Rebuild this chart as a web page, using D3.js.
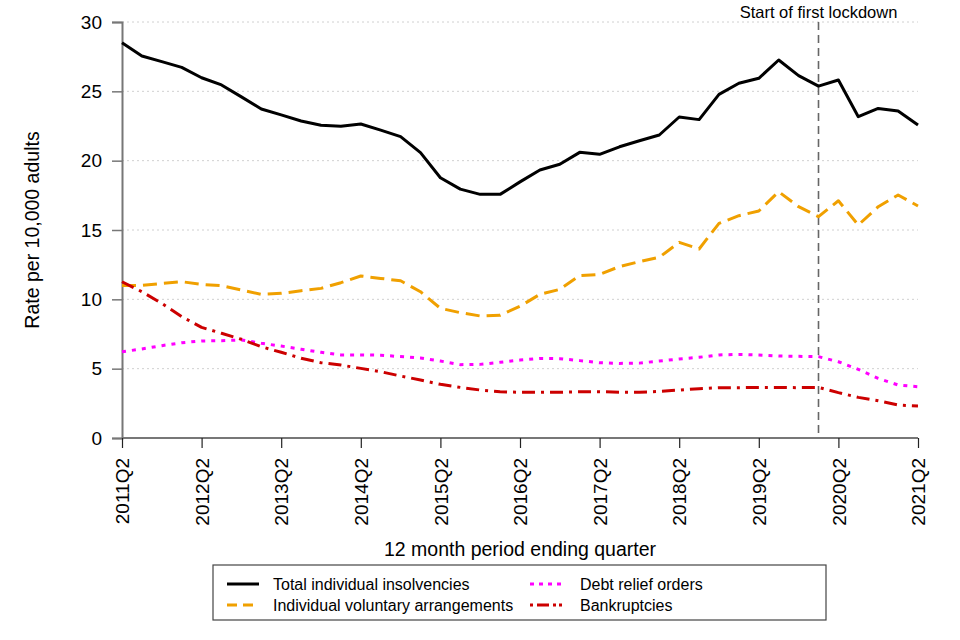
<!DOCTYPE html>
<html>
<head>
<meta charset="utf-8">
<script src="https://cdn.jsdelivr.net/npm/d3@7"></script>
<style>
  body { margin: 0; background: #fff; }
  text { font-family: Arial, "Liberation Sans", sans-serif; }
</style>
</head>
<body>
<svg id="chart" width="960" height="640"></svg>
<script>
// Quarters: 2011Q2 .. 2021Q2
const quarters = [];
for (let y = 2011; y <= 2021; y++) {
  for (let q = 1; q <= 4; q++) {
    if ((y === 2011 && q < 2) || (y === 2021 && q > 2)) continue;
    quarters.push(y + "Q" + q);
  }
}
const tickLabels = ["2011Q2","2012Q2","2013Q2","2014Q2","2015Q2","2016Q2","2017Q2","2018Q2","2019Q2","2020Q2","2021Q2"];
const yTicks = [0, 5, 10, 15, 20, 25, 30];
const lockdownQuarter = "2020Q1";
const lockdownLabel = "Start of first lockdown";

const totalValues = [28.5,27.55,27.14,26.73,25.98,25.46,24.6,23.73,23.3,22.86,22.55,22.48,22.64,22.2,21.73,20.58,18.77,17.95,17.57,17.57,
  18.47,19.33,19.74,20.6,20.46,21.0,21.44,21.85,23.15,22.96,24.78,25.58,25.94,27.26,26.13,25.38,25.82,23.17,23.77,23.58,22.57];
const ivaValues = [11.0,11.0,11.15,11.27,11.08,10.98,10.67,10.36,10.43,10.62,10.79,11.2,11.68,11.51,11.34,10.55,9.35,9.04,8.8,8.85,
  9.5,10.36,10.72,11.71,11.8,12.36,12.72,13.03,14.11,13.63,15.48,16.03,16.37,17.76,16.68,15.96,17.11,15.36,16.68,17.52,16.73];
const droValues = [6.22,6.42,6.66,6.87,7.0,7.02,7.07,6.83,6.63,6.4,6.18,5.99,5.99,5.97,5.87,5.77,5.55,5.29,5.31,5.46,
  5.62,5.74,5.72,5.58,5.43,5.38,5.4,5.55,5.7,5.82,5.99,6.03,5.99,5.91,5.89,5.87,5.5,4.95,4.3,3.82,3.7];
const bankruptcyValues = [11.27,10.55,9.71,8.75,7.98,7.55,7.12,6.58,6.18,5.75,5.43,5.26,5.02,4.78,4.47,4.18,3.87,3.65,3.46,3.34,
  3.3,3.3,3.3,3.34,3.34,3.3,3.3,3.36,3.46,3.56,3.63,3.63,3.65,3.65,3.63,3.65,3.27,2.93,2.69,2.38,2.31];

const seriesNames = ["Total individual insolvencies","Individual voluntary arrangements","Debt relief orders","Bankruptcies"];

const series = [
  { name: seriesNames[0], values: totalValues, color: "#000000", dash: null, legendDash: null },
  { name: seriesNames[1], values: ivaValues, color: "#f0a000", dash: "14,7", legendDash: "10,6" },
  { name: seriesNames[2], values: droValues, color: "#ff00ff", dash: "4,6", legendDash: "4,5" },
  { name: seriesNames[3], values: bankruptcyValues, color: "#cc0000", dash: "13,6,3,6", legendDash: "3,4,12,4,3" }
];

const svg = d3.select("#chart");
const margin = { left: 122, right: 42, top: 22, bottom: 202 };
const W = 960, H = 640;
const x = d3.scalePoint().domain(quarters).range([margin.left, W - margin.right]);
const y = d3.scaleLinear().domain([0, 30]).range([H - margin.bottom, margin.top]);

// gridlines
svg.append("g").selectAll("line").data(yTicks.filter(d => d > 0)).join("line")
  .attr("x1", margin.left).attr("x2", W - margin.right)
  .attr("y1", d => y(d)).attr("y2", d => y(d))
  .attr("stroke", "#d0d0d0").attr("stroke-width", 1).attr("stroke-dasharray", "2,3");

// y axis
const yAxis = svg.append("g").attr("transform", `translate(${margin.left},0)`)
  .call(d3.axisLeft(y).tickValues(yTicks).tickSize(10).tickPadding(10));
yAxis.select(".domain").attr("stroke", "#777").attr("stroke-width", 2);
yAxis.selectAll(".tick line").attr("stroke", "#777").attr("stroke-width", 1.5);
yAxis.selectAll(".tick text").attr("font-size", 19).attr("fill", "#000")
  .attr("font-family", "Arial, 'Liberation Sans', sans-serif");

// x axis
const xAxis = svg.append("g").attr("transform", `translate(0,${y(0)})`)
  .call(d3.axisBottom(x).tickValues(tickLabels).tickSize(10).tickPadding(0));
xAxis.select(".domain").attr("stroke", "#777").attr("stroke-width", 2)
  .attr("d", `M${margin.left},0H${W - margin.right}`);
xAxis.selectAll(".tick line").attr("stroke", "#222").attr("stroke-width", 1.2);
xAxis.selectAll(".tick text").attr("font-size", 19).attr("fill", "#000")
  .attr("font-family", "Arial, 'Liberation Sans', sans-serif")
  .attr("transform", "rotate(-90)")
  .attr("text-anchor", "end").attr("dy", "0.35em")
  .attr("x", -20).attr("y", 0);

// lockdown line
const lx = x(lockdownQuarter);
svg.append("line").attr("x1", lx).attr("x2", lx).attr("y1", y(30)).attr("y2", y(0))
  .attr("stroke", "#666").attr("stroke-width", 1.6).attr("stroke-dasharray", "8,5");
svg.append("text").attr("x", lx).attr("y", 18).attr("text-anchor", "middle")
  .attr("font-size", 16.5).text(lockdownLabel);

// lines
const line = d3.line().x((d, i) => x(quarters[i])).y(d => y(d));
series.forEach(s => {
  svg.append("path").datum(s.values).attr("d", line)
    .attr("fill", "none").attr("stroke", s.color).attr("stroke-width", 3)
    .attr("stroke-linejoin", "round")
    .attr("stroke-dasharray", s.dash);
});

// axis titles
svg.append("text").attr("transform", `translate(39,${(y(0) + y(30)) / 2}) rotate(-90)`)
  .attr("text-anchor", "middle").attr("font-size", 19.5).text("Rate per 10,000 adults");
svg.append("text").attr("x", (margin.left + W - margin.right) / 2).attr("y", 556)
  .attr("text-anchor", "middle").attr("font-size", 19.5).text("12 month period ending quarter");

// legend
const lg = svg.append("g");
lg.append("rect").attr("x", 213).attr("y", 565).attr("width", 613).attr("height", 55)
  .attr("fill", "#fff").attr("stroke", "#444").attr("stroke-width", 1.2);
const legendPos = [
  { x: 227, y: 584 }, { x: 227, y: 605 }, { x: 530, y: 584 }, { x: 530, y: 605 }
];
series.forEach((s, i) => {
  const p = legendPos[i];
  lg.append("line").attr("x1", p.x).attr("x2", p.x + 32).attr("y1", p.y).attr("y2", p.y)
    .attr("stroke", s.color).attr("stroke-width", 3).attr("stroke-dasharray", s.legendDash);
  lg.append("text").attr("x", p.x + (i < 2 ? 46 : 50)).attr("y", p.y).attr("dy", "0.35em")
    .attr("font-size", 16).text(s.name);
});
</script>
</body>
</html>
